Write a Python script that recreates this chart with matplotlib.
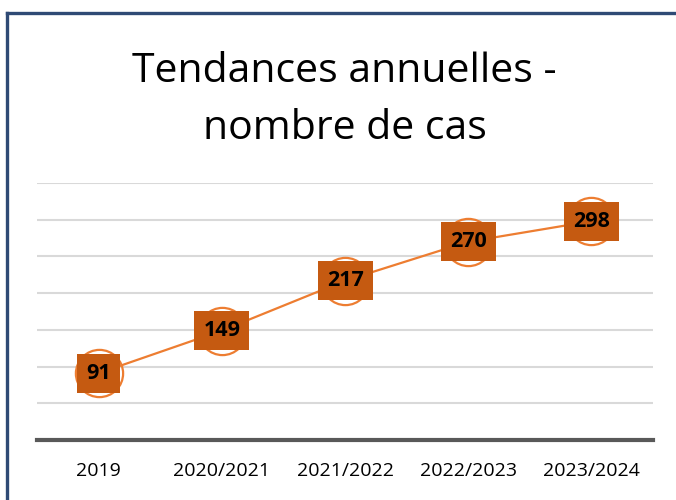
import matplotlib
matplotlib.use('Agg')
import matplotlib.pyplot as plt
from matplotlib.lines import Line2D

# %% Data
categories = ['2019', '2020/2021', '2021/2022', '2022/2023', '2023/2024']
cases = [91, 149, 217, 270, 298]
title_lines = ['Tendances annuelles -', 'nombre de cas']

plt.rcParams['font.family'] = ['Open Sans', 'DejaVu Sans']

# %% Figure
fig = plt.figure(figsize=(6.76, 5.0), dpi=100)
ax = fig.add_axes([0.055, 0.12, 0.911, 0.514])

x = range(len(categories))
ax.plot(x, cases, color='#ED7D31', lw=1.6, zorder=3,
        marker='o', ms=34, mfc='none', mec='#ED7D31', mew=1.6)

for xi, v in zip(x, cases):
    ax.text(xi, v, str(v), ha='center', va='center', fontsize=15.5,
            fontweight='bold', color='black', zorder=5,
            bbox=dict(boxstyle='square,pad=0.42', fc='#C55A11', ec='none'))

ax.set_xlim(-0.5, len(categories) - 0.5)
ax.set_ylim(0, 350)
ax.set_yticks(range(50, 351, 50))
ax.yaxis.grid(True, color='#D9D9D9', lw=1.5)
ax.set_axisbelow(True)
ax.tick_params(axis='y', length=0, labelleft=False)
ax.tick_params(axis='x', length=0, labelsize=14, pad=16)
ax.set_xticks(list(x))
ax.set_xticklabels(categories)
for s in ['top', 'right', 'left']:
    ax.spines[s].set_visible(False)
ax.spines['bottom'].set_color('#595959')
ax.spines['bottom'].set_linewidth(3)

# title, two lines
fig.text(0.51, 0.836, title_lines[0], ha='center', va='baseline',
         fontsize=29.5, color='black')
fig.text(0.51, 0.722, title_lines[1], ha='center', va='baseline',
         fontsize=29.5, color='black')

# outer frame (right and bottom edges fall outside the picture)
fig.add_artist(Line2D([0.011, 1.0], [0.975, 0.975], color='#2F4A75', lw=2.4,
                      transform=fig.transFigure))
fig.add_artist(Line2D([0.011, 0.011], [0.0, 0.975], color='#2F4A75', lw=2.4,
                      transform=fig.transFigure))

fig.savefig('out.png', dpi=100)
